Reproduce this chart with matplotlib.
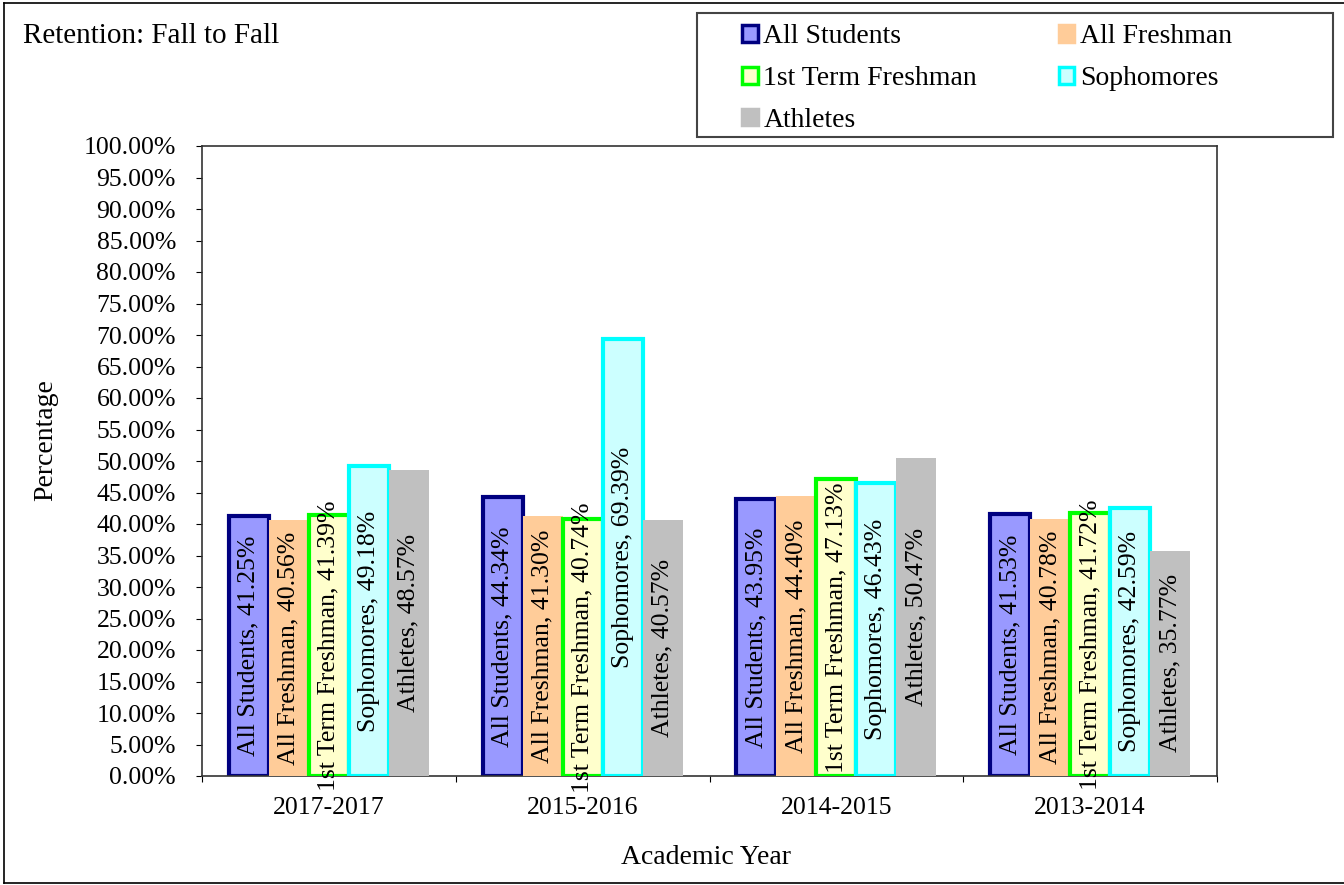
import numpy as np
import matplotlib.pyplot as plt
from matplotlib.patches import Rectangle, Patch
from matplotlib.lines import Line2D

plt.rcParams['font.family'] = ['Liberation Serif', 'DejaVu Serif']

# data
years = ['2017-2017', '2015-2016', '2014-2015', '2013-2014']
series = ['All Students', 'All Freshman', '1st Term Freshman', 'Sophomores', 'Athletes']
all_students = [41.25, 44.34, 43.95, 41.53]
all_freshman = [40.56, 41.30, 44.40, 40.78]
first_term = [41.39, 40.74, 47.13, 41.72]
sophomores = [49.18, 69.39, 46.43, 42.59]
athletes = [48.57, 40.57, 50.47, 35.77]
values = [all_students, all_freshman, first_term, sophomores, athletes]

faces = ['#9999FF', '#FFCC99', '#FFFFCC', '#CCFFFF', '#C0C0C0']
edges = ['#000080', 'none', '#00FF00', '#00FFFF', 'none']

W, H = 1344, 885
fig = plt.figure(figsize=(W / 100, H / 100), dpi=100)
ax = fig.add_axes([202 / W, 1 - 776 / H, (1217 - 202) / W, (776 - 146) / H])

x = np.arange(len(years))
bw = 40 / 253.75
fs_tick = 18.5
fs_lab = 18.5
fs_axis = 20

for j, (name, vals) in enumerate(zip(series, values)):
    pos = x + (j - 2) * bw
    lw = 3.0 if edges[j] != 'none' else 0
    ax.bar(pos, vals, width=bw, color=faces[j], edgecolor=edges[j], linewidth=lw,
           zorder=2 + j)
    for xp, v in zip(pos, vals):
        ax.text(xp, v / 2, f'{name}, {v:.2f}%', rotation=90, ha='center', va='center',
                fontsize=fs_lab, zorder=10)

ax.set_xlim(-0.5, 3.5)
ax.set_ylim(0, 100)
ax.set_yticks(np.arange(0, 101, 5))
ax.set_yticklabels([f'{t:.2f}%' for t in np.arange(0, 101, 5)], fontsize=fs_tick)
ax.set_xticks(np.arange(-0.5, 3.6, 1))
ax.set_xticklabels([])
ax.set_xticks(x, minor=True)
ax.set_xticklabels(years, minor=True, fontsize=fs_tick)
ax.tick_params(axis='x', which='minor', length=0, pad=15)
ax.tick_params(axis='x', which='major', length=4.3, direction='out')
ax.tick_params(axis='y', length=4.3, direction='out', pad=14.5)
for s in ax.spines.values():
    s.set_color('#333333')
    s.set_linewidth(1.2)

fig.text(706 / W, 1 - 858 / H, 'Academic Year', ha='center', va='center', fontsize=fs_axis)
fig.text(46 / W, 1 - 440 / H, 'Percentage', ha='center', va='center', rotation=90,
         fontsize=fs_axis)
fig.text(23 / W, 1 - 36 / H, 'Retention: Fall to Fall', ha='left', va='center', fontsize=21)

# outer frame (left, top, bottom)
for xs, ys in [([4 / W, 4 / W], [1 - 3 / H, 1 - 883 / H]),
               ([4 / W, 1], [1 - 3 / H, 1 - 3 / H]),
               ([4 / W, 1], [1 - 883 / H, 1 - 883 / H])]:
    fig.add_artist(Line2D(xs, ys, color='black', lw=1.2, transform=fig.transFigure))

# legend box
fig.add_artist(Rectangle((697 / W, 1 - 137 / H), 636 / W, 124 / H, transform=fig.transFigure,
                         facecolor='white', edgecolor='#444444', lw=1.5))
handles = [Patch(facecolor=faces[j], edgecolor=edges[j] if edges[j] != 'none' else faces[j],
                 linewidth=2.5) for j in range(5)]
order = [0, 2, 4, 1, 3]
leg = fig.legend([handles[k] for k in order], [series[k] for k in order],
                 loc='upper left', bbox_to_anchor=(723 / W, 1 - 5 / H),
                 ncol=2, frameon=False, fontsize=fs_axis, handlelength=0.55, handleheight=0.55,
                 handletextpad=0.2, columnspacing=2.95, labelspacing=0.6, borderpad=0.2)

fig.savefig('out.png', dpi=100)
